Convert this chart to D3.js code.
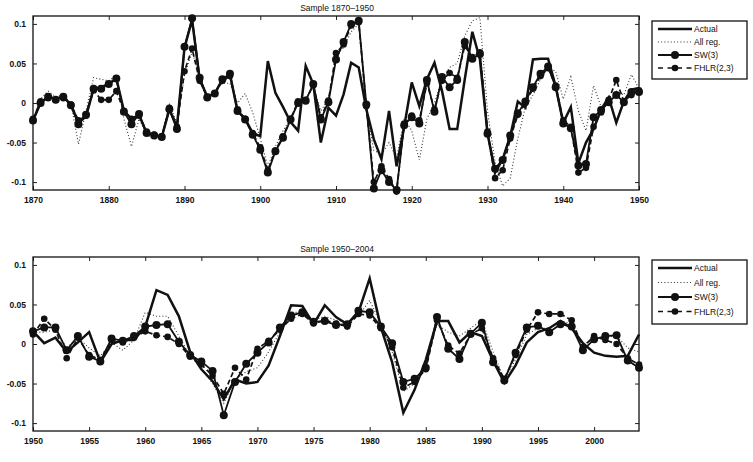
<!DOCTYPE html>
<html>
<head>
<meta charset="utf-8">
<script src="https://d3js.org/d3.v7.min.js"></script>
<style>
  body { margin: 0; background: #fff; }
  text { font-family: "Liberation Sans", Arial, sans-serif; fill: #111; }
</style>
</head>
<body>
<div id="chart"></div>
<script>
// ---- data ----
var seriesNames = ["Actual", "All reg.", "SW(3)", "FHLR(2,3)"];

// sample 1870-1950, one value per year
var topStart = 1870;
var topActual = [-0.022,0.000,0.008,0.005,0.008,-0.002,-0.025,-0.017,0.018,0.020,
  0.024,0.031,-0.010,-0.020,-0.015,-0.038,-0.040,-0.043,-0.008,-0.030,
  0.070,0.105,0.030,0.008,0.012,0.030,0.036,-0.010,-0.020,-0.038,
  -0.042,0.053,0.013,-0.005,-0.024,-0.035,0.047,0.024,-0.050,-0.006,
  -0.016,0.011,0.051,0.045,-0.008,-0.046,-0.071,-0.010,-0.080,-0.030,
  0.026,-0.004,0.030,0.051,0.015,-0.033,-0.033,0.030,0.090,0.055,
  -0.038,-0.088,-0.071,-0.042,0.002,-0.006,0.055,0.056,0.056,0.021,
  -0.025,-0.005,-0.076,-0.050,-0.033,-0.008,0.007,-0.025,0.002,0.017,0.019];
var topAllReg = [-0.020,0.005,0.015,0.008,0.010,0.000,-0.052,-0.010,0.032,0.030,
  0.028,0.035,-0.020,-0.055,-0.020,-0.040,-0.045,-0.045,-0.002,-0.025,
  0.035,0.065,0.035,0.010,0.015,0.025,0.025,0.000,0.012,-0.012,
  -0.045,-0.080,-0.055,-0.035,-0.020,0.005,0.005,0.020,-0.010,0.005,
  0.060,0.070,0.090,0.100,-0.010,-0.060,-0.065,-0.050,-0.070,-0.020,
  -0.035,-0.072,-0.020,0.000,0.030,0.045,0.050,0.085,0.104,0.108,
  -0.010,-0.075,-0.105,-0.095,-0.045,-0.005,0.010,0.030,0.045,0.040,
  0.005,0.033,-0.010,-0.035,0.022,-0.005,0.000,0.015,0.010,0.036,0.018];
var topSW = [-0.022,0.000,0.008,0.004,0.008,-0.003,-0.027,-0.015,0.018,0.018,
  0.024,0.031,-0.011,-0.027,-0.014,-0.038,-0.041,-0.043,-0.008,-0.033,
  0.071,0.107,0.032,0.007,0.012,0.030,0.037,-0.010,-0.021,-0.040,
  -0.059,-0.088,-0.061,-0.044,-0.021,0.000,0.003,0.024,-0.021,0.001,
  0.055,0.077,0.100,0.104,-0.002,-0.108,-0.085,-0.100,-0.110,-0.028,
  -0.018,-0.026,0.029,-0.011,0.033,0.020,0.029,0.077,0.056,0.062,
  -0.039,-0.083,-0.072,-0.041,-0.013,0.002,0.020,0.037,0.046,0.020,
  -0.026,-0.032,-0.079,-0.077,-0.018,-0.009,0.001,0.010,0.001,0.014,0.014];
var topFHLR = [-0.020,0.002,0.006,0.004,0.006,-0.002,-0.022,-0.016,0.016,0.004,
  0.004,0.015,-0.010,-0.020,-0.016,-0.036,-0.040,-0.042,-0.006,-0.030,
  0.040,0.069,0.028,0.008,0.012,0.028,0.034,-0.008,-0.020,-0.038,
  -0.056,-0.085,-0.060,-0.042,-0.020,0.002,0.004,0.022,-0.018,0.003,
  0.063,0.074,0.098,0.102,-0.004,-0.100,-0.080,-0.096,-0.112,-0.026,
  -0.016,-0.022,0.025,-0.008,0.028,0.038,0.032,0.072,0.058,0.064,
  -0.036,-0.095,-0.085,-0.045,-0.015,0.000,0.018,0.034,0.044,0.022,
  -0.022,-0.030,-0.088,-0.082,-0.030,-0.012,0.004,0.029,0.002,0.010,0.016];

// sample 1950-2004, one value per year
var botStart = 1950;
var botActual = [0.016,0.001,0.008,-0.010,0.002,0.015,-0.023,0.000,0.005,0.005,
  0.022,0.068,0.062,0.035,-0.010,-0.032,-0.047,-0.070,-0.045,-0.050,
  -0.048,-0.027,0.010,0.049,0.048,0.025,0.049,0.034,0.025,0.040,
  0.083,0.021,-0.023,-0.087,-0.058,-0.020,0.029,0.029,0.002,0.015,
  0.010,-0.021,-0.049,-0.027,0.002,0.015,0.020,0.029,0.020,0.001,
  -0.011,-0.015,-0.016,-0.015,0.012];
var botAllReg = [0.015,0.015,0.018,-0.005,0.008,-0.005,-0.015,0.002,-0.008,0.005,
  0.040,0.035,0.035,0.010,-0.015,-0.030,-0.050,-0.075,-0.045,-0.035,
  -0.030,-0.010,0.015,0.040,0.040,0.030,0.035,0.030,0.028,0.035,
  0.055,0.025,-0.010,-0.060,-0.050,-0.025,0.025,0.015,0.010,0.020,
  0.030,-0.010,-0.045,-0.020,0.012,0.020,0.020,0.030,0.025,0.000,
  0.005,0.010,0.010,-0.005,-0.010];
var botSW = [0.016,0.021,0.021,-0.008,0.010,-0.016,-0.022,0.007,0.004,0.010,
  0.022,0.024,0.025,0.003,-0.014,-0.022,-0.034,-0.090,-0.048,-0.025,
  -0.011,0.002,0.021,0.036,0.040,0.028,0.029,0.024,0.025,0.042,
  0.040,0.022,0.001,-0.048,-0.044,-0.030,0.034,-0.006,-0.019,0.013,
  0.027,-0.023,-0.046,-0.011,0.021,0.023,0.015,0.025,0.022,-0.008,
  0.006,0.010,0.011,-0.021,-0.030];
var botFHLR = [0.012,0.032,0.018,-0.018,0.008,-0.014,-0.020,0.005,0.002,0.008,
  0.016,0.011,0.009,0.000,-0.016,-0.026,-0.040,-0.063,-0.030,-0.045,
  -0.006,0.004,0.018,0.032,0.038,0.026,0.030,0.026,0.022,0.038,
  0.036,0.020,-0.004,-0.055,-0.048,-0.032,0.030,-0.002,-0.012,0.012,
  0.020,-0.018,-0.044,-0.014,0.018,0.040,0.038,0.038,0.030,-0.004,
  0.010,0.005,0.000,-0.018,-0.026];

var yTicks = [-0.1, -0.05, 0, 0.05, 0.1];
var yTickLabels = ["-0.1", "-0.05", "0", "0.05", "0.1"];
var topXTicks = [1870, 1880, 1890, 1900, 1910, 1920, 1930, 1940, 1950];
var botXTicks = [1950, 1955, 1960, 1965, 1970, 1975, 1980, 1985, 1990, 1995, 2000];

// ---- drawing ----
var W = 753, H = 462;
var svg = d3.select("#chart").append("svg").attr("width", W).attr("height", H);

function panel(title, top, start, xEnd, xTicks, series, legendTop, legendStep) {
  var left = 33, right = 639, bottom = top + 174;
  var g = svg.append("g");

  var x = d3.scaleLinear().domain([start, xEnd]).range([left, right]);
  var y = d3.scaleLinear().domain([-0.11, 0.11]).range([bottom, top]);

  g.append("text").attr("x", 337).attr("y", top - 5).attr("text-anchor", "middle")
    .attr("font-size", 8.5).text(title);

  g.append("g").attr("transform", "translate(0," + bottom + ")")
    .call(d3.axisBottom(x).tickValues(xTicks).tickSizeInner(-4).tickSizeOuter(0).tickPadding(7).tickFormat(d3.format("d")));
  g.append("g").attr("transform", "translate(0," + top + ")")
    .call(d3.axisTop(x).tickValues(xTicks).tickSizeInner(-4).tickSizeOuter(0).tickFormat(""));
  g.append("g").attr("transform", "translate(" + left + ",0)")
    .call(d3.axisLeft(y).tickValues(yTicks).tickSizeInner(-4).tickSizeOuter(0).tickPadding(7)
      .tickFormat(function(d, i) { return yTickLabels[i]; }));
  g.append("g").attr("transform", "translate(" + right + ",0)")
    .call(d3.axisRight(y).tickValues(yTicks).tickSizeInner(-4).tickSizeOuter(0).tickFormat(""));
  g.selectAll(".domain").remove();
  g.selectAll(".tick line").attr("stroke", "#222");
  g.selectAll(".tick text").attr("font-size", 8.5).attr("font-weight", "bold").attr("fill", "#111");

  g.append("rect").attr("x", left).attr("y", top).attr("width", right - left).attr("height", bottom - top)
    .attr("fill", "none").attr("stroke", "#111").attr("stroke-width", 1.3);

  var line = d3.line().x(function(d, i) { return x(start + i); }).y(function(d) { return y(d); });

  // All reg. (dotted)
  g.append("path").datum(series[1]).attr("d", line).attr("fill", "none")
    .attr("stroke", "#333").attr("stroke-width", 1.1).attr("stroke-dasharray", "1,2.2");
  // FHLR(2,3) dashed with dots
  g.append("path").datum(series[3]).attr("d", line).attr("fill", "none")
    .attr("stroke", "#111").attr("stroke-width", 1.7).attr("stroke-dasharray", "5,3");
  g.selectAll(".fh").data(series[3]).enter().append("circle")
    .attr("cx", function(d, i) { return x(start + i); }).attr("cy", function(d) { return y(d); })
    .attr("r", 3.3).attr("fill", "#111");
  // SW(3) solid with circles
  g.append("path").datum(series[2]).attr("d", line).attr("fill", "none")
    .attr("stroke", "#111").attr("stroke-width", 1.8);
  g.selectAll(".sw").data(series[2]).enter().append("circle")
    .attr("cx", function(d, i) { return x(start + i); }).attr("cy", function(d) { return y(d); })
    .attr("r", 4).attr("fill", "#111");
  // Actual thick solid
  g.append("path").datum(series[0]).attr("d", line).attr("fill", "none")
    .attr("stroke", "#111").attr("stroke-width", 2.5).attr("stroke-linejoin", "miter");

  // legend
  var lx = 652, lw = 95;
  var lh = legendStep * 4 + 6;
  g.append("rect").attr("x", lx).attr("y", legendTop).attr("width", lw).attr("height", lh)
    .attr("fill", "#fff").attr("stroke", "#111").attr("stroke-width", 1.3);
  seriesNames.forEach(function(name, i) {
    var ly = legendTop + 8 + legendStep * i;
    var l = g.append("line").attr("x1", 658).attr("x2", 692).attr("y1", ly).attr("y2", ly)
      .attr("stroke", "#111");
    if (i === 0) l.attr("stroke-width", 2.5);
    if (i === 1) l.attr("stroke-width", 1.1).attr("stroke-dasharray", "1,2.2").attr("stroke", "#333");
    if (i === 2) { l.attr("stroke-width", 1.8);
      g.append("circle").attr("cx", 675).attr("cy", ly).attr("r", 4).attr("fill", "#111"); }
    if (i === 3) { l.attr("stroke-width", 1.7).attr("stroke-dasharray", "5,4.5");
      g.append("circle").attr("cx", 675).attr("cy", ly).attr("r", 3.3).attr("fill", "#111"); }
    g.append("text").attr("x", 694).attr("y", ly + 3).attr("font-size", 8.5).text(name);
  });
}

panel("Sample 1870\u20131950", 16, topStart, 1950, topXTicks,
  [topActual, topAllReg, topSW, topFHLR], 21, 13);
panel("Sample 1950\u20132004", 257, botStart, 2004, botXTicks,
  [botActual, botAllReg, botSW, botFHLR], 260, 14.5);
</script>
</body>
</html>
